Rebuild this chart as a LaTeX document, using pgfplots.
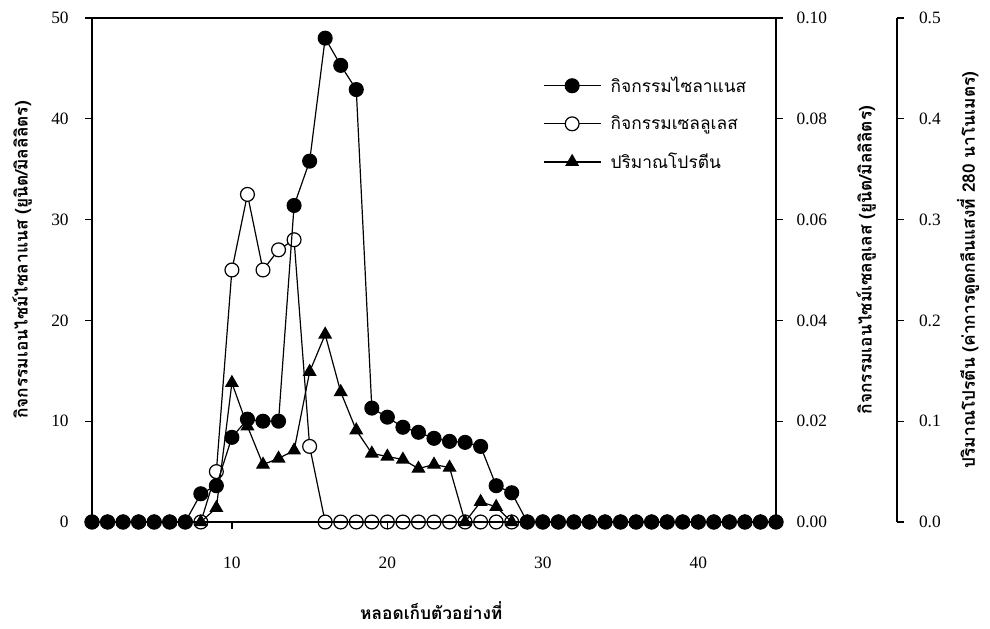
\documentclass[border=0pt]{standalone}
\usepackage{pgfplots}
\pgfplotsset{compat=1.18}
\usepackage{fontspec}
\setmainfont{Liberation Serif}
\newfontfamily\thaifont[Script=Thai]{Loma}

% fraction number vs. activities and protein
\pgfplotstableread{
x  xyl
1  0
2  0
3  0
4  0
5  0
6  0
7  0
8  2.8
9  3.6
10 8.4
11 10.2
12 10.0
13 10.0
14 31.4
15 35.8
16 48.0
17 45.3
18 42.9
19 11.3
20 10.4
21 9.4
22 8.9
23 8.3
24 8.0
25 7.9
26 7.5
27 3.6
28 2.9
29 0
30 0
31 0
32 0
33 0
34 0
35 0
36 0
37 0
38 0
39 0
40 0
41 0
42 0
43 0
44 0
45 0
}\xylanase

\pgfplotstableread{
x  cel
1  0
2  0
3  0
4  0
5  0
6  0
7  0
8  0
9  0.010
10 0.050
11 0.065
12 0.050
13 0.054
14 0.056
15 0.015
16 0
17 0
18 0
19 0
20 0
21 0
22 0
23 0
24 0
25 0
26 0
27 0
28 0
29 0
30 0
31 0
32 0
33 0
34 0
35 0
36 0
37 0
38 0
39 0
40 0
41 0
42 0
43 0
44 0
45 0
}\cellulase

\pgfplotstableread{
x  prot
1  0
2  0
3  0
4  0
5  0
6  0
7  0
8  0
9  0.014
10 0.138
11 0.095
12 0.057
13 0.063
14 0.071
15 0.149
16 0.186
17 0.129
18 0.091
19 0.068
20 0.065
21 0.062
22 0.053
23 0.057
24 0.054
25 0
26 0.020
27 0.015
28 0
29 0
30 0
31 0
32 0
33 0
34 0
35 0
36 0
37 0
38 0
39 0
40 0
41 0
42 0
43 0
44 0
45 0
}\protein

\pgfplotsset{
  panel/.style={
    scale only axis, width=513pt, height=378pt,
    at={(0,0)}, anchor=south west,
    xmin=1, xmax=45, ymin=0, clip=false,
    tick align=outside, major tick length=5pt,
    axis line style={line width=0.9pt},
    tick style={line width=0.9pt, black},
    tick label style={font=\fontsize{13}{15}\selectfont},
    /pgf/number format/assume math mode=true,
    label style={font=\thaifont\bfseries\fontsize{13}{15}\selectfont},
  },
  series/.style={black, line width=0.9pt, mark size=5.2pt,
    mark options={solid, line width=0.9pt}},
}

\begin{document}
\begin{tikzpicture}
\useasboundingbox (-69pt,-80.25pt) rectangle (673.5pt,391.5pt);

% cellulase activity, right axis
\begin{axis}[panel, ymax=0.10,
  axis y line*=right, axis x line=none,
  ytick={0,0.02,0.04,0.06,0.08,0.10},
  scaled y ticks=false,
  yticklabel style={xshift=7pt, /pgf/number format/.cd, fixed, fixed zerofill, precision=2},
  ylabel={กิจกรรมเอนไซม์เซลลูเลส (ยูนิต/มิลลิลิตร)},
  ylabel style={at={(axis description cs:1.1316,0.52)}, anchor=center},
]
\addplot[series, mark=*, mark options={fill=white}] table[x=x, y=cel] {\cellulase};
\end{axis}

% xylanase activity, left axis and frame
\begin{axis}[panel, ymax=50,
  xtick={10,20,30,40}, ytick={0,10,20,30,40,50},
  xtick pos=bottom, ytick pos=left,
  xticklabel style={yshift=-18pt},
  yticklabel style={xshift=-9pt},
  xlabel={หลอดเก็บตัวอย่างที่},
  xlabel style={at={(axis description cs:0.496,0)}, anchor=center, yshift=-66.75pt},
  ylabel={กิจกรรมเอนไซม์ไซลาแนส (ยูนิต/มิลลิลิตร)},
  ylabel style={at={(axis description cs:-0.102,0.52)}, anchor=center},
  legend style={draw=none, fill=none, at={(0.659,0.79)}, anchor=west,
    inner sep=0pt, row sep=12pt,
    font=\thaifont\fontsize{13}{15}\selectfont},
  legend cell align=left,
  legend image code/.code={%
    \draw[mark repeat=2, mark phase=2] plot coordinates {(0pt,0pt) (21.4pt,0pt) (42.8pt,0pt)};},
]
\addplot[series, mark=*, mark options={fill=black}] table[x=x, y=xyl] {\xylanase};
\addlegendentry{\hspace*{5pt}กิจกรรมไซลาแนส}
\addlegendimage{series, mark=*, mark options={fill=white}}
\addlegendentry{\hspace*{5pt}กิจกรรมเซลลูเลส}
\addlegendimage{series, mark=triangle*, mark options={fill=black}}
\addlegendentry{\hspace*{5pt}ปริมาณโปรตีน}
\end{axis}

% protein content, shares the frame
\begin{axis}[panel, ymax=0.5, hide axis]
\addplot[series, mark=triangle*, mark options={fill=black}] table[x=x, y=prot] {\protein};
\end{axis}

% offset axis for protein content
\begin{axis}[panel, width=10pt, at={(593.75pt,0)},
  xmin=0, xmax=1, ymax=0.5,
  axis y line*=right, axis x line=none,
  ytick={0,0.1,0.2,0.3,0.4,0.5},
  yticklabel style={xshift=8pt, /pgf/number format/.cd, fixed, fixed zerofill, precision=1},
  ylabel={ปริมาณโปรตีน (ค่าการดูดกลืนแสงที่ 280 นาโนเมตร)},
  ylabel style={at={(axis description cs:6.325,0.5)}, anchor=center},
]
\addplot[draw=none] coordinates {(0,0)};
\end{axis}
\end{tikzpicture}
\end{document}
